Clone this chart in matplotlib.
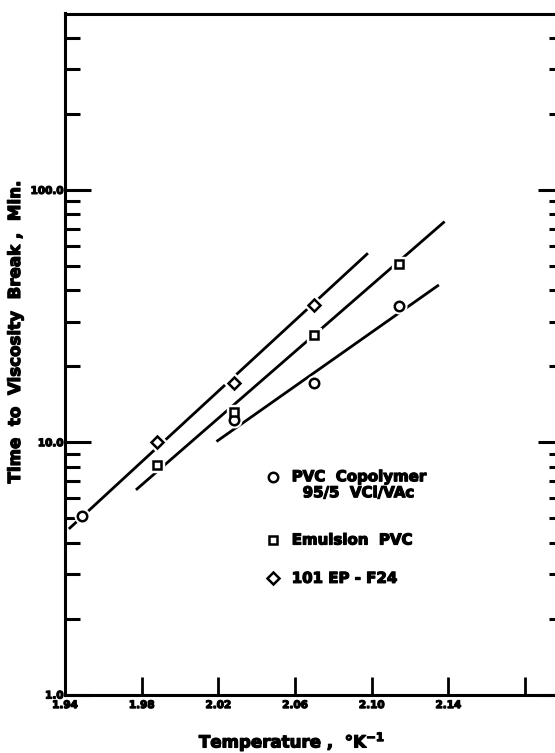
import matplotlib
matplotlib.use("Agg")
import matplotlib.pyplot as plt
import matplotlib.patheffects as pe
from matplotlib.ticker import FixedLocator, NullFormatter

plt.rcParams['font.family'] = ['DejaVu Sans']
plt.rcParams['font.weight'] = 'bold'
plt.rcParams['mathtext.default'] = 'bf'

# reciprocal temperature, 1000/T
temp_copoly = [1.949, 2.028, 2.070, 2.114]
time_copoly = [5.1, 12.2, 17.2, 34.6]

temp_emul = [1.988, 2.028, 2.070, 2.114]
time_emul = [8.1, 13.2, 26.5, 50.9]

temp_ep = [1.988, 2.028, 2.070]
time_ep = [10.0, 17.1, 35.0]

# drawn fit lines (end points)
fit_copoly_x = [2.019, 2.135]
fit_copoly_y = [10.06, 42.0]
fit_emul_x = [1.977, 2.138]
fit_emul_y = [6.47, 74.9]
fit_ep_x = [1.942, 2.098]
fit_ep_y = [4.53, 56.1]

xticks = [1.94, 1.98, 2.02, 2.06, 2.10, 2.14, 2.18]
xticklabels = ['1.94', '1.98', '2.02', '2.06', '2.10', '2.14', '']
yticks = [1, 10, 100]
yticklabels = ['1.0', '10.0', '100.0']
yminor = [2, 3, 4, 5, 6, 7, 8, 9, 20, 30, 40, 50, 60, 70, 80, 90, 200, 300, 400]

legend_labels = ['PVC  Copolymer', '95/5  VCl/VAc', 'Emulsion  PVC', '101 EP - F24']

heavy = [pe.withStroke(linewidth=0.9, foreground='black')]

fig = plt.figure(figsize=(5.55, 7.53), dpi=100)
ax = fig.add_axes([65 / 555, 58.5 / 753, 498.5 / 555, 681 / 753])
ax.set_yscale('log')
ax.set_xlim(1.94, 2.20)
ax.set_ylim(1, 500)

for s in ax.spines.values():
    s.set_linewidth(2.2)

lw = 2.0
ax.plot(fit_copoly_x, fit_copoly_y, color='black', lw=lw, solid_capstyle='butt')
ax.plot(fit_emul_x, fit_emul_y, color='black', lw=lw, solid_capstyle='butt')
ax.plot(fit_ep_x, fit_ep_y, color='black', lw=lw, solid_capstyle='butt')

# white halos so the lines break around the points
ax.plot(temp_copoly, time_copoly, 'o', ms=10.5, color='white', zorder=3)
ax.plot(temp_emul, time_emul, 's', ms=10, color='white', zorder=3)
ax.plot(temp_ep, time_ep, 'D', ms=10, color='white', zorder=3)

ax.plot(temp_copoly, time_copoly, 'o', ms=6.8, mfc='white', mec='black', mew=1.8, zorder=4)
ax.plot(temp_emul, time_emul, 's', ms=6.2, mfc='white', mec='black', mew=1.8, zorder=4)
ax.plot(temp_ep, time_ep, 'D', ms=6.2, mfc='white', mec='black', mew=1.8, zorder=4)

ax.xaxis.set_major_locator(FixedLocator(xticks))
ax.set_xticklabels(xticklabels)
ax.yaxis.set_major_locator(FixedLocator(yticks))
ax.set_yticklabels(yticklabels)
ax.yaxis.set_minor_locator(FixedLocator(yminor))
ax.yaxis.set_minor_formatter(NullFormatter())

ax.tick_params(axis='x', which='both', direction='in', length=13, width=2,
               top=False, pad=4, labelsize=7.5)
ax.tick_params(axis='y', which='major', direction='in', length=19, width=2.2,
               left=True, right=True, pad=1, labelsize=7.5)
ax.tick_params(axis='y', which='minor', direction='in', length=11, width=2.2,
               left=True, right=True)
for lab in ax.get_xticklabels() + ax.get_yticklabels():
    lab.set_path_effects(heavy)

# legend drawn by hand
ax.plot([0.418], [0.3198], 'o', ms=6.8, mfc='white', mec='black', mew=1.8,
        transform=ax.transAxes, clip_on=False)
ax.plot([0.418], [0.2269], 's', ms=6.2, mfc='white', mec='black', mew=1.8,
        transform=ax.transAxes, clip_on=False)
ax.plot([0.418], [0.1706], 'D', ms=6.2, mfc='white', mec='black', mew=1.8,
        transform=ax.transAxes, clip_on=False)
ax.text(0.4548, 0.3198, legend_labels[0], transform=ax.transAxes,
        va='center', ha='left', fontsize=10.8, path_effects=heavy)
ax.text(0.4768, 0.2963, legend_labels[1], transform=ax.transAxes,
        va='center', ha='left', fontsize=10.8, path_effects=heavy)
ax.text(0.4548, 0.2269, legend_labels[2], transform=ax.transAxes,
        va='center', ha='left', fontsize=10.8, path_effects=heavy)
ax.text(0.4548, 0.1706, legend_labels[3], transform=ax.transAxes,
        va='center', ha='left', fontsize=10.8, path_effects=heavy)

ax.text(0.455, -0.069, 'Temperature ,  °K$^{-1}$', transform=ax.transAxes,
        ha='center', va='center', fontsize=12, path_effects=heavy)
fig.text(15 / 555, 1 - 332.5 / 753, 'Time  to  Viscosity  Break ,  Min.',
         rotation=90, ha='center', va='center', fontsize=12, path_effects=heavy)

fig.savefig('out.png', dpi=100)
